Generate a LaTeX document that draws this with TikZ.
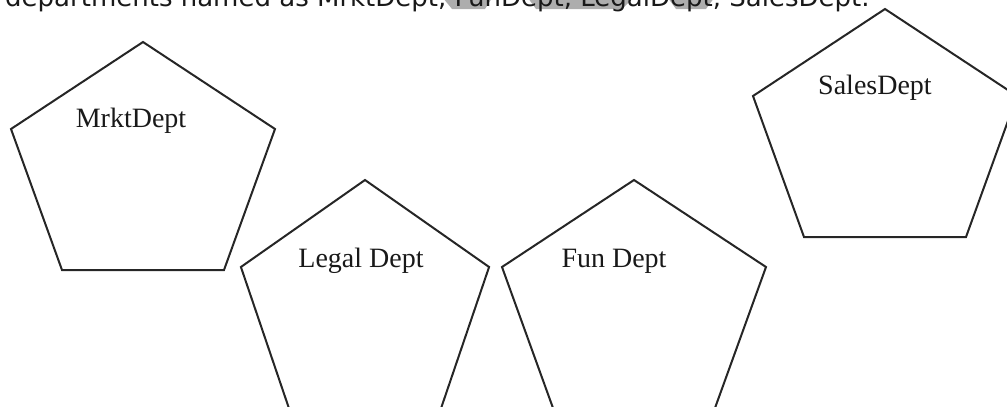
\documentclass[tikz,border=0pt]{standalone}
\usepackage{fontspec}
\setmainfont{Liberation Serif}
\newfontfamily\notefont{DejaVu Sans}

\begin{document}
\begin{tikzpicture}[x=1pt,y=-1pt]
	\tikzstyle{PentStyle}=[draw=black!85,line width=2pt,line join=miter]
	\tikzstyle{DeptLabel}=[anchor=base,inner sep=0pt,text=black!90,font=\fontsize{28}{30}\selectfont]
	\tikzstyle{MarkStyle}=[fill=black!32]
	\useasboundingbox (0,0) rectangle (1007,407);
	\clip (0,0) rectangle (1007,407);
	\fill[MarkStyle] (443,-2) -- (492,-2) -- (485,9) -- (452,9) -- cycle;
	\fill[MarkStyle] (528,-2) -- (633,-2) -- (622,9) -- (536,9) -- cycle;
	\fill[MarkStyle] (668,-2) -- (714,-2) -- (706,9) -- (676,9) -- cycle;
	\node[anchor=base west,inner sep=0pt,text=black!90,font=\notefont\fontsize{26}{28}\selectfont] (note) at (5,6)
		{departments named as MrktDept, FunDept, LegalDept, SalesDept.};
	\foreach \n/\cx/\cy/\w in {mrkt/143/42/1,legal/365/180/0.94,fun/634/180/1,sales/885/9/1}{
		\coordinate (\n) at (\cx,\cy);
		\draw[PentStyle] (\n) -- (\cx+132*\w,\cy+87) -- (\cx+81*\w,\cy+228)
			-- (\cx-81*\w,\cy+228) -- (\cx-132*\w,\cy+87) -- cycle;
	}
	\node[DeptLabel] (mrktlabel) at (131,127) {MrktDept};
	\node[DeptLabel] (legallabel) at (361,267) {Legal Dept};
	\node[DeptLabel] (funlabel) at (614,267) {Fun Dept};
	\node[DeptLabel] (saleslabel) at (875,94) {SalesDept};
\end{tikzpicture}
\end{document}
